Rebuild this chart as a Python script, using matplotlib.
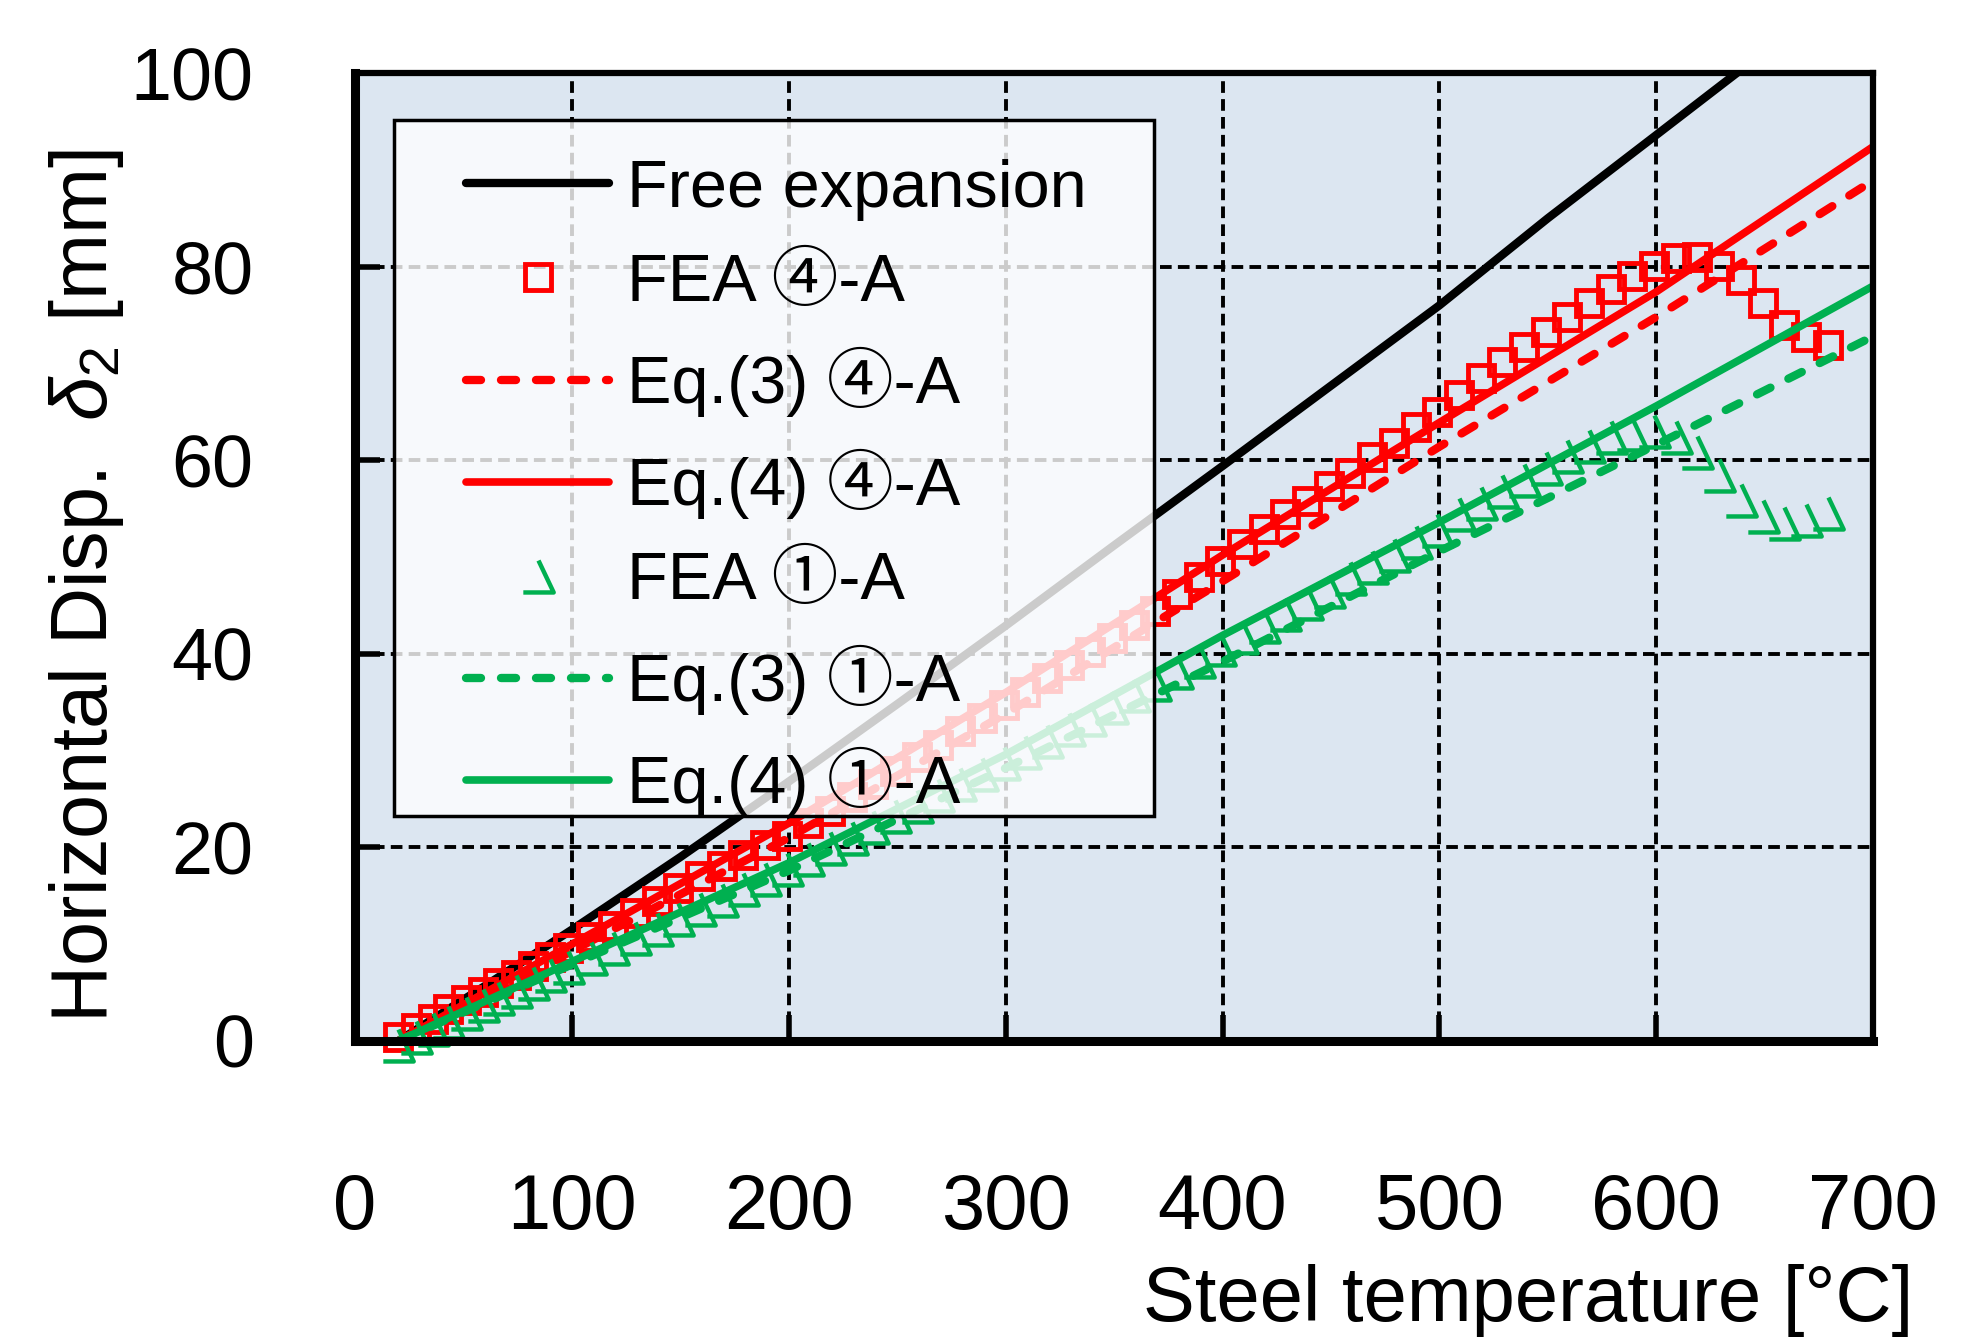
import matplotlib
matplotlib.use('Agg')
import matplotlib.pyplot as plt
import matplotlib.patches as patches
from matplotlib.path import Path

plt.rcParams['font.family'] = ['Liberation Sans', 'Noto Sans CJK JP', 'DejaVu Sans']
plt.rcParams['mathtext.fontset'] = 'custom'
plt.rcParams['mathtext.rm'] = 'Liberation Sans'
plt.rcParams['mathtext.it'] = 'Liberation Sans:italic'

# ---- data ----
T_free = [20, 60, 100, 150, 200, 250, 300, 350, 400, 450, 500, 550, 600, 640]
d_free = [0, 5.7, 11.5, 19.0, 26.8, 34.8, 42.9, 51.2, 59.4, 67.7, 76.0, 85.0, 93.6, 100.5]

T_eq = [20, 100, 200, 300, 400, 500, 600, 700]
eq3_4 = [0, 9.3, 21.0, 33.8, 47.5, 61.4, 74.8, 88.9]
eq4_4 = [0, 10.0, 22.5, 36.0, 50.2, 63.9, 77.4, 92.4]
eq3_1 = [0, 7.9, 17.6, 28.2, 39.2, 50.6, 61.6, 72.8]
eq4_1 = [0, 8.2, 18.4, 29.6, 41.9, 53.6, 65.6, 78.0]

T_fea = [20, 28, 36, 43, 51, 59, 66, 74, 82, 90, 98,
         109, 119, 129, 139, 149, 159, 169, 179, 189, 199,
         209, 219, 229, 239, 249, 259, 269, 279, 289, 299,
         309, 319, 329, 339, 349, 359, 369, 379, 389, 399,
         409, 419, 429, 439, 449, 459, 469, 479, 489, 499,
         509, 519, 529, 539, 549, 559, 569, 579, 589, 599,
         609, 619, 629, 639, 649, 659, 669, 679]
fea_4 = [0.4, 1.3, 2.3, 3.3, 4.2, 5.1, 6.0, 6.8, 7.7, 8.7, 9.6,
         10.7, 11.9, 13.2, 14.5, 15.8, 17.0, 18.1, 19.2, 20.2, 21.2,
         22.5, 23.8, 25.2, 26.5, 27.9, 29.3, 30.6, 32.0, 33.4, 34.7,
         36.1, 37.5, 38.8, 40.2, 41.6, 43.0, 44.4, 46.2, 47.9, 49.6,
         51.3, 52.9, 54.4, 55.8, 57.3, 58.7, 60.3, 61.8, 63.4, 65.0,
         66.7, 68.5, 70.1, 71.7, 73.2, 74.8, 76.2, 77.7, 79.0, 80.1,
         80.9, 81.0, 80.1, 78.6, 76.2, 74.0, 72.7, 71.9]
fea_1 = [-0.4, 0.4, 1.2, 2.0, 2.9, 3.7, 4.4, 5.2, 6.0, 6.8, 7.6,
         8.6, 9.6, 10.6, 11.6, 12.6, 13.6, 14.6, 15.7, 16.7, 17.8,
         18.8, 19.9, 21.0, 22.1, 23.2, 24.3, 25.4, 26.5, 27.6, 28.7,
         29.9, 31.0, 32.2, 33.3, 34.5, 35.7, 36.9, 38.1, 39.3, 40.5,
         41.7, 42.9, 44.1, 45.3, 46.5, 47.8, 49.0, 50.2, 51.5, 52.8,
         54.4, 55.6, 56.8, 58.0, 59.2, 60.4, 61.5, 62.4, 62.7, 63.0,
         62.4, 60.8, 58.5, 55.9, 54.2, 53.5, 53.8, 54.5]

xticks = [0, 100, 200, 300, 400, 500, 600, 700]
yticks = [0, 20, 40, 60, 80, 100]

red = '#FF0000'
green = '#00B050'

# open triangle, left side missing
tri_open = Path([(0, 1), (0.95, -1), (-0.95, -1)],
                [Path.MOVETO, Path.LINETO, Path.LINETO])

fig = plt.figure(figsize=(19.87, 13.38), dpi=100)
ax = fig.add_axes([0.1787, 0.2220, 0.764, 0.7234])
ax.set_facecolor('#DCE6F1')

dash = (0, (1.8, 2.4))
l_free, = ax.plot(T_free, d_free, color='black', lw=6, solid_capstyle='round')
l_fea4, = ax.plot(T_fea, fea_4, ls='none', marker='s', ms=19, mfc='none', mec=red, mew=3.5, clip_on=False)
l_e34, = ax.plot(T_eq, eq3_4, color=red, lw=6, ls=dash, dash_capstyle='round')
l_e44, = ax.plot(T_eq, eq4_4, color=red, lw=5.5, solid_capstyle='round')
l_fea1, = ax.plot(T_fea, fea_1, ls='none', marker=tri_open, ms=23, mfc='none', mec=green, mew=3.2, clip_on=False)
l_e31, = ax.plot(T_eq, eq3_1, color=green, lw=6, ls=dash, dash_capstyle='round')
l_e41, = ax.plot(T_eq, eq4_1, color=green, lw=5.5, solid_capstyle='round')

ax.set_xlim(0, 700)
ax.set_ylim(0, 100)
ax.set_xticks(xticks)
ax.set_yticks(yticks)
ax.set_axisbelow(True)
ax.grid(True, color='black', lw=2.8, ls=(0, (3.0, 1.6)))

ax.tick_params(axis='x', direction='in', length=19, width=4, pad=94, labelsize=56, top=False)
ax.tick_params(axis='y', direction='in', length=18, width=4, pad=73, labelsize=53, right=False)
for s in ['left', 'bottom']:
    ax.spines[s].set_linewidth(6.5)
for s in ['top', 'right']:
    ax.spines[s].set_linewidth(4.5)

# legend box (semi transparent white) + legend entries
box = patches.Rectangle((0.0257, 0.2324), 0.5003, 0.719, transform=ax.transAxes,
                        facecolor=(1, 1, 1, 0.8), edgecolor='black', lw=2.5, zorder=10)
ax.add_patch(box)
handles = [l_free, l_fea4, l_e34, l_e44, l_fea1, l_e31, l_e41]
labels = ['Free expansion', 'FEA ④-A', 'Eq.(3) ④-A', 'Eq.(4) ④-A',
          'FEA ①-A', 'Eq.(3) ①-A', 'Eq.(4) ①-A']
leg = ax.legend(handles, labels, loc='upper left', bbox_to_anchor=(0.0731, 0.9115),
                borderaxespad=0, borderpad=0, frameon=False, fontsize=48,
                handlelength=2.15, handletextpad=0.27, labelspacing=0.48, numpoints=1)
leg.set_zorder(11)

fig.text(0.0433, 0.562, 'Horizontal Disp.  $\\delta_2$ [mm]', rotation=90,
         ha='center', va='center', fontsize=57)
fig.text(0.9628, 0.0277, 'Steel temperature [°C]', ha='right', va='center', fontsize=56)

plt.savefig('out.png', dpi=100)
